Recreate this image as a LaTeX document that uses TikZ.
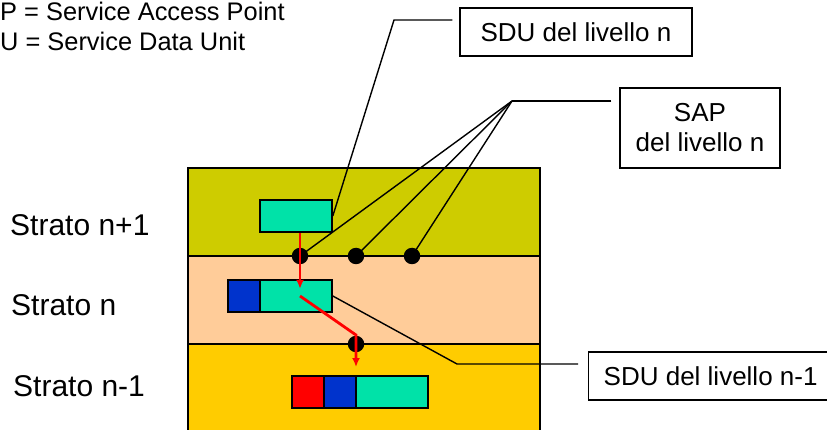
\documentclass[tikz,border=0pt]{standalone}
\usepackage{fontspec}
\setmainfont{Liberation Sans}
\usetikzlibrary{arrows.meta,calc}
\tikzset{>={Latex[length=9pt,width=8pt]}}
\definecolor{toplay}{RGB}{206,204,0}
\definecolor{midlay}{RGB}{255,204,153}
\definecolor{botlay}{RGB}{255,204,0}
\definecolor{sducol}{RGB}{0,226,168}
\definecolor{pcicol}{RGB}{0,51,204}
\definecolor{hdrcol}{RGB}{255,0,0}
\tikzset{
  layer/.style={draw=black,line width=1.6pt},
  pdu/.style={draw=black,line width=1.6pt,minimum height=32pt,inner sep=0pt},
  sdubox/.style={pdu,fill=sducol,minimum width=72pt},
  hdrbox/.style={pdu,minimum width=32pt},
  sap/.style={circle,fill=black,minimum size=16.5pt,inner sep=0pt},
  label/.style={draw=black,line width=1.4pt,fill=white,
                font=\fontsize{26}{30}\selectfont},
  strato/.style={anchor=base west,inner sep=0pt,font=\fontsize{30}{36}\selectfont},
  legend/.style={anchor=base west,inner sep=0pt,font=\fontsize{25.4}{30}\selectfont},
  leader/.style={line width=1.4pt},
  flow/.style={->,red,line width=2.8pt}
}

\begin{document}
\begin{tikzpicture}[x=1pt,y=-1pt]
  \clip (0,0) rectangle (827,430);
  \def\Lx{188}
  \def\Rx{540}

  % LAYERS
  \draw[layer,fill=toplay] (\Lx,168) rectangle (\Rx,256);
  \draw[layer,fill=midlay] (\Lx,256) rectangle (\Rx,344);
  \draw[layer,fill=botlay] (\Lx,344) rectangle (\Rx,450);
  \node[strato] (sup) at (10,236) {Strato n+1};
  \node[strato] (cur) at (11,316) {Strato n};
  \node[strato] (inf) at (13,396) {Strato n-1};

  % LEGEND
  \node[legend] (leg1) at (0,21) {P = Service Access Point};
  \node[legend] (leg2) at (0,51) {U = Service Data Unit};

  % DATA UNITS
  \node[sdubox] (sdun) at (296,216) {};
  \node[hdrbox,fill=pcicol] (pcin) at (244,296) {};
  \node[sdubox] (sdum) at (296,296) {};
  \node[hdrbox,fill=hdrcol] (pcim) at (308,392) {};
  \node[hdrbox,fill=pcicol] (pcix) at (340,392) {};
  \node[sdubox] (sdux) at (392,392) {};

  % LABELS
  \node[label,minimum width=232pt,minimum height=48pt] (lsdun) at (576,32)
    {SDU del livello n};
  \node[label,minimum width=160pt,minimum height=80pt,align=center] (lsap)
    at (700,128) {SAP\\del livello n};
  \node[label,anchor=west,minimum height=48pt,inner xsep=15pt] (lsdum)
    at (588,376) {SDU del livello n-1};

  % SAP POINTS
  \foreach \name/\px/\py in {sapa/300/256,sapb/356/256,sapc/412/256,sapd/356/344}{
    \coordinate (\name) at (\px,\py);
  }
  \coordinate (kA) at (394,20);
  \coordinate (kB) at (512,101);
  \coordinate (kC) at (457,364);
  \draw[leader] (sdun.east) -- (kA) -- ([xshift=-7pt]kA -| lsdun.west);
  \draw[leader] ([xshift=-8pt]kB -| lsap.west) -- (kB);
  \foreach \p in {sapa,sapb,sapc}{
    \draw[leader] (kB) -- (\p);
  }
  \draw[leader] (sdum.east) -- (kC) -- ([xshift=-10pt]kC -| lsdum.west);
  \foreach \p in {sapa,sapb,sapc,sapd}{
    \node[sap] at (\p) {};
  }

  % FLOW
  \draw[flow] (sapa |- sdun.south) -- ++(0,56);
  \draw[flow] (sapa |- sdum) -- ([yshift=9pt]sapd) -- ++(0,32);

\end{tikzpicture}
\end{document}
